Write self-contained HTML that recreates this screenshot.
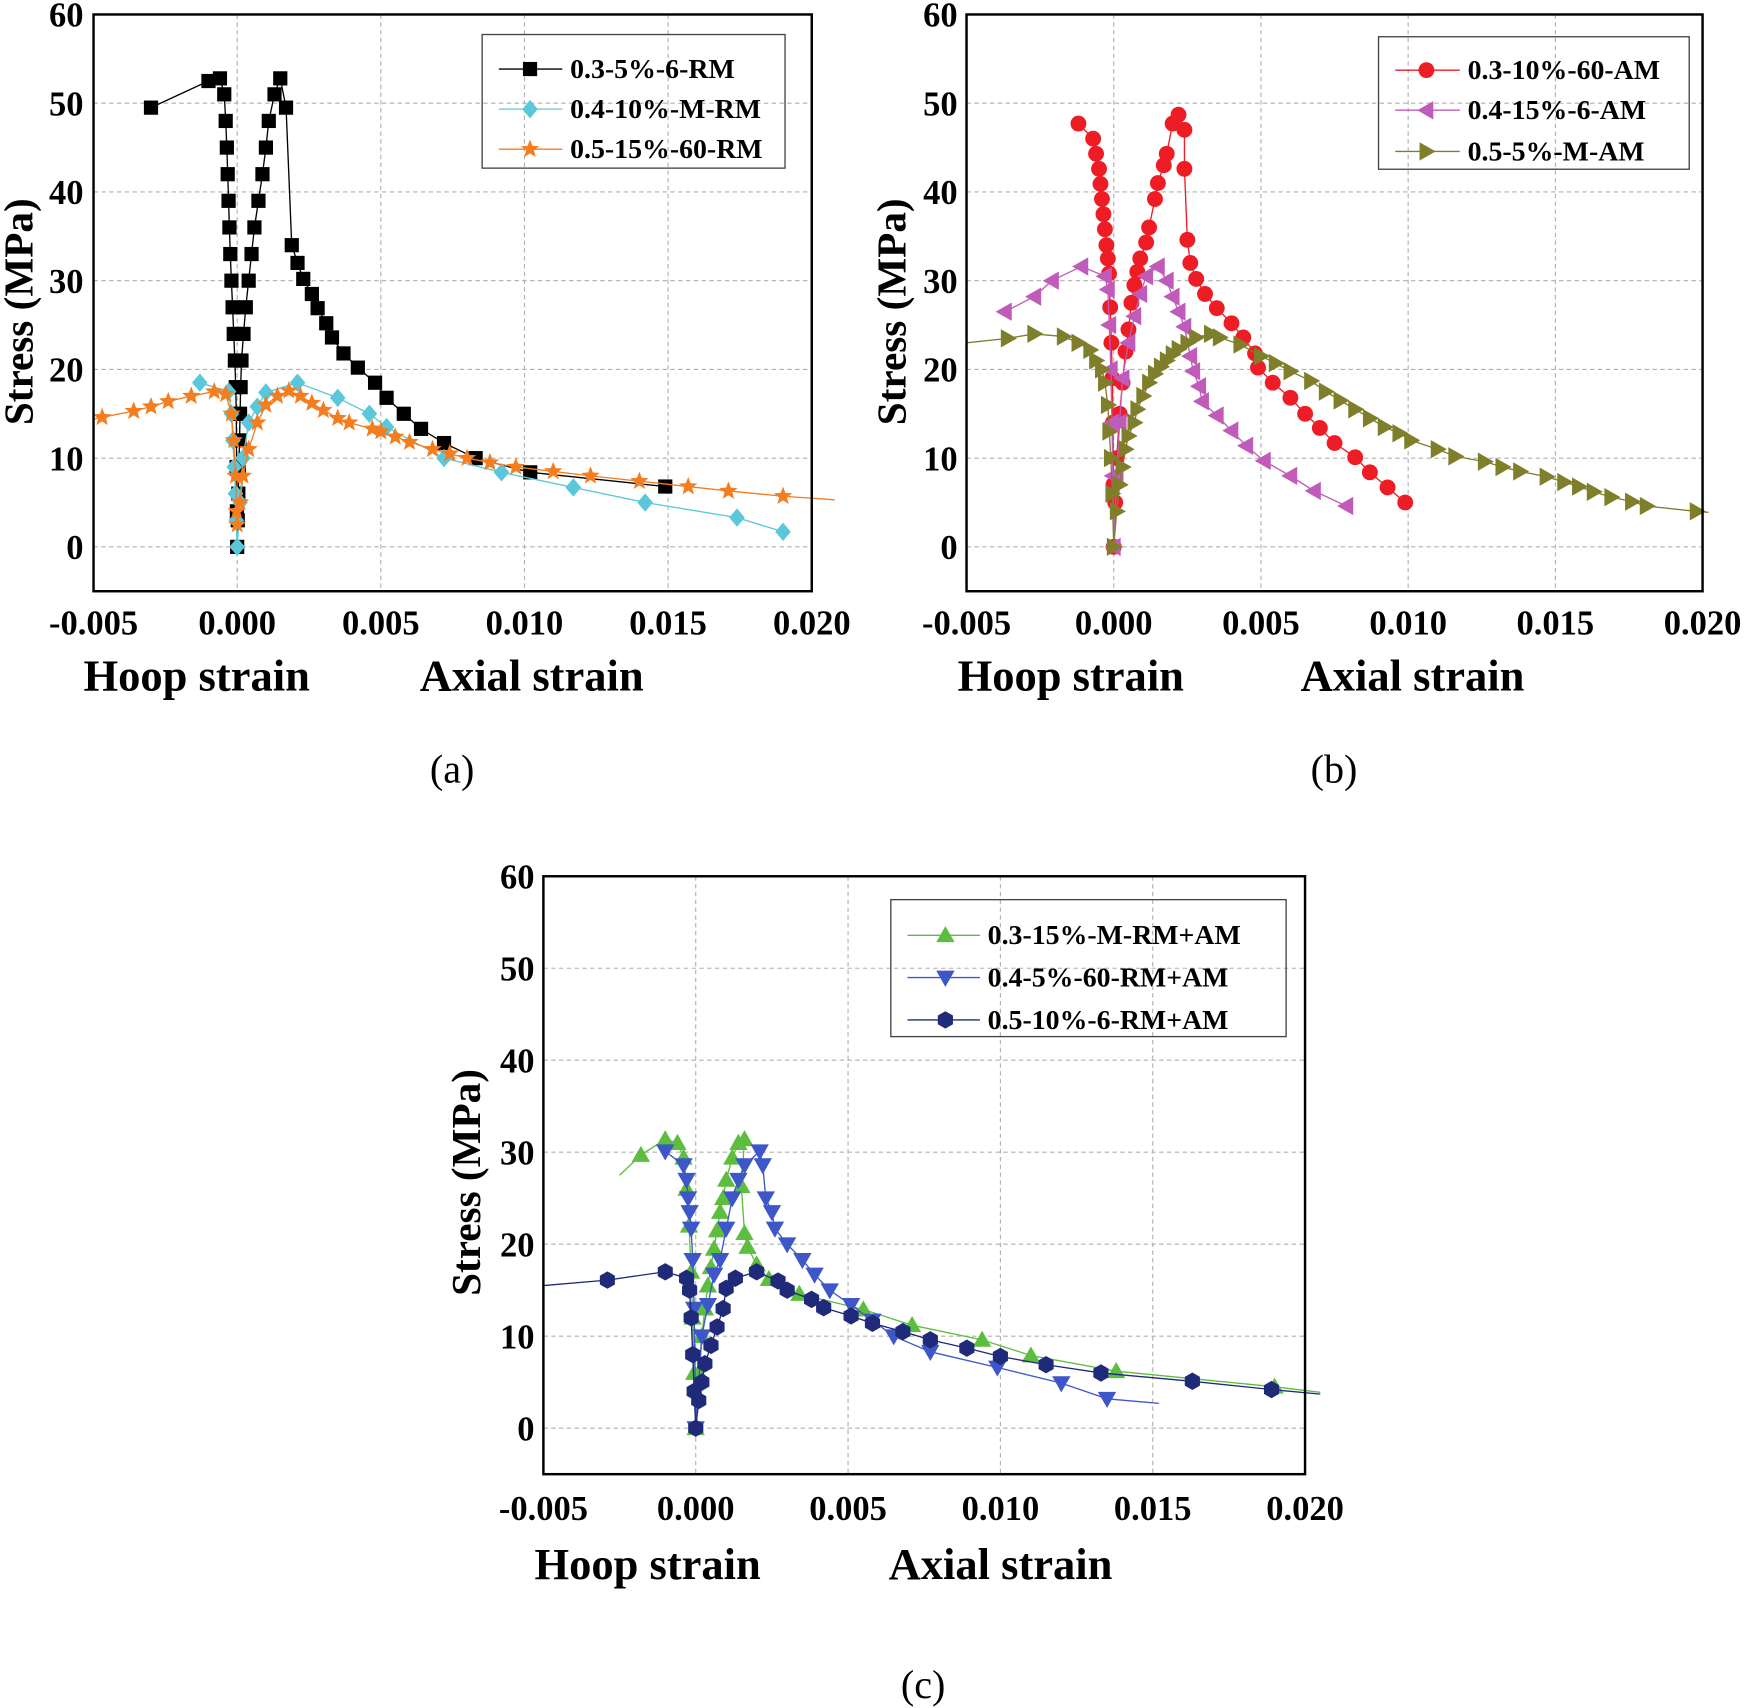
<!DOCTYPE html>
<html><head><meta charset="utf-8"><style>
html,body{margin:0;padding:0;background:#fff}
svg{display:block}
text{font-family:"Liberation Serif",serif}
</style></head><body>
<svg id="fig" width="1746" height="1708" viewBox="0 0 1568 1534" preserveAspectRatio="none" xmlns="http://www.w3.org/2000/svg"></svg>
<script>
// ---------- DATA ----------
const xTicks = [-0.005, 0.000, 0.005, 0.010, 0.015, 0.020];
const xTickLabels = ["-0.005","0.000","0.005","0.010","0.015","0.020"];
const yTicks = [0,10,20,30,40,50,60];
const yTickLabels = ["0","10","20","30","40","50","60"];

// (a) 0.3-5%-6-RM
const a1Strain = [-0.003,-0.001,-0.0006,-0.00045,-0.0004,-0.00036,-0.00033,-0.0003,-0.00027,-0.00024,-0.0002,-0.00016,-0.00012,-0.00008,-0.00005,-0.00003,-0.00002,-0.00001,0,0.00002,0.00004,0.00006,0.00008,0.0001,0.00012,0.00015,0.00022,0.0003,0.0004,0.0005,0.0006,0.00074,0.00088,0.001,0.0011,0.0013,0.0015,0.0017,0.0019,0.0021,0.0023,0.0026,0.0028,0.0031,0.0033,0.0037,0.0042,0.0048,0.0052,0.0058,0.0064,0.0072,0.0083,0.0102,0.0149];
const a1Stress = [49.5,52.5,52.8,51,48,45,42,39,36,33,30,27,24,21,18,15,9,4,0,3,6,9,12,15,18,21,24,27,30,33,36,39,42,45,48,51,52.8,49.5,34,32,30.2,28.5,26.9,25.2,23.6,21.8,20.2,18.5,16.8,15,13.3,11.7,10,8.4,6.8,5];
const a2Strain = [-0.0013,-0.0003,-0.0002,-0.00015,-0.0001,-0.00006,-0.00003,0,0.0001,0.0002,0.0004,0.0007,0.001,0.0021,0.0035,0.0046,0.0052,0.0072,0.0092,0.0117,0.0142,0.0174,0.019];
const a2Stress = [18.5,17.5,15,12,9,6,3,0,5,10,14,15.8,17.4,18.5,16.8,15,13.5,10,8.4,6.7,5,3.3,1.7];
const a3Strain = [-0.0047,-0.0036,-0.003,-0.0024,-0.0016,-0.0008,-0.0004,-0.0002,-0.00012,-0.00006,-0.00002,0,0.0001,0.0002,0.0004,0.0007,0.001,0.0014,0.0018,0.0022,0.0026,0.003,0.0035,0.0039,0.0047,0.005,0.0055,0.006,0.0068,0.0074,0.008,0.0088,0.0097,0.011,0.0123,0.014,0.0157,0.0171,0.019];
const a3Stress = [14.6,15.3,15.8,16.4,17,17.5,17.2,15,12,8,4,2.5,5,8,11,14,16,17,17.6,17,16.2,15.4,14.5,14,13.3,13,12.4,11.8,11,10.5,10,9.5,9,8.5,8,7.4,6.8,6.3,5.7];
const a3Tail = [[-0.005,14.4],[0.0208,5.3]];

// (b)
const b1Strain = [-0.0012,-0.0007,-0.0006,-0.0005,-0.00045,-0.0004,-0.00035,-0.0003,-0.00025,-0.0002,-0.00016,-0.00012,-0.00008,-0.00005,-0.00003,-0.00001,0,0.00005,0.0001,0.0002,0.0003,0.0004,0.0005,0.0006,0.0007,0.0008,0.0009,0.0011,0.0012,0.0014,0.0015,0.0017,0.0018,0.002,0.0022,0.0024,0.0024,0.0025,0.0026,0.0028,0.0031,0.0035,0.004,0.0044,0.0048,0.0049,0.0054,0.006,0.0065,0.007,0.0075,0.0082,0.0087,0.0093,0.0099];
const b1Stress = [47.7,46,44.3,42.6,40.9,39.2,37.5,35.8,34,32.5,30.8,27,23,19,14,7,0,5,10,15,18.5,22,24.5,27.5,29.5,31,32.5,34.3,36,39.2,41,43,44.3,47.7,48.7,47,42.6,34.6,32,30.2,28.5,26.9,25.2,23.6,21.8,20.2,18.5,16.8,15,13.4,11.7,10.1,8.4,6.7,5];
const b2Strain = [-0.0037,-0.0027,-0.0021,-0.0011,-0.0003,-0.0002,-0.00015,-0.0001,-0.00006,-0.00003,0,0.0001,0.0002,0.0003,0.0005,0.0007,0.0009,0.0011,0.0015,0.0018,0.002,0.0022,0.0024,0.0026,0.0027,0.0029,0.003,0.0035,0.004,0.0045,0.0051,0.006,0.0068,0.0079];
const b2Stress = [26.5,28.2,30,31.6,30.5,29,25,20,14,8,0,8,14,19,23,26,28.5,30.5,31.6,30,28.2,26.5,24.8,21.5,19.8,18.1,16.4,14.8,13.1,11.4,9.7,8,6.3,4.6];
const b2Tail = [[0.008,4.3]];
const b3Strain = [-0.0036,-0.0027,-0.0017,-0.0012,-0.0008,-0.0006,-0.0004,-0.0003,-0.0002,-0.00015,-0.0001,-0.00005,0,0.0001,0.0002,0.0003,0.0004,0.0005,0.0007,0.0008,0.001,0.0012,0.0014,0.0016,0.0018,0.002,0.0022,0.0025,0.0028,0.0033,0.0036,0.0043,0.005,0.0055,0.006,0.0067,0.0072,0.0077,0.0082,0.0087,0.0092,0.0097,0.0101,0.011,0.0116,0.0126,0.0132,0.0138,0.0147,0.0153,0.0158,0.0163,0.0169,0.0176,0.0181,0.0198];
const b3Stress = [23.5,24,23.7,23,22.2,21,20,18.5,16,13,10,6,0,4,7,9,11,12.5,14,15.5,17,18.5,19.5,20.3,21,21.7,22.3,23,23.6,24,23.6,22.8,21.5,20.7,19.8,18.7,17.5,16.5,15.5,14.5,13.5,12.8,12,11,10.2,9.6,9,8.5,7.9,7.3,6.8,6.2,5.6,5.1,4.6,4];
const b3Tail = [[-0.005,23],[0.0202,3.9]];

// (c)
const c1Strain = [-0.0018,-0.001,-0.0006,-0.0004,-0.0003,-0.00022,-0.00015,-0.0001,-0.00005,0,0.0001,0.0002,0.0003,0.0004,0.0005,0.0006,0.0007,0.0008,0.0009,0.001,0.0012,0.0014,0.0016,0.0015,0.0016,0.0017,0.002,0.0024,0.0034,0.0055,0.0071,0.0094,0.011,0.0138,0.019];
const c1Stress = [29.7,31.4,31,29.4,26,22,17,12,6,0,6,10,13,15.5,17.5,19.5,21.5,23.5,25,27,29.4,31,31.4,26.3,21.2,19.7,17.8,16.2,14.6,12.9,11.2,9.6,7.9,6.2,4.5];
const c1Tail = [[-0.0025,27.5],[0.0205,3.9]];
const c2Strain = [-0.001,-0.0004,-0.0003,-0.00025,-0.0002,-0.00015,-0.0001,-0.00005,0,0.0002,0.0004,0.0006,0.0008,0.001,0.0012,0.0014,0.0016,0.0021,0.0022,0.0023,0.0025,0.0026,0.003,0.0035,0.0039,0.0044,0.0051,0.0058,0.0065,0.0077,0.0099,0.012,0.0135];
const c2Stress = [30.1,28.6,27,25,23.5,21.7,18.3,13,0,10,13.4,16.7,18.3,21.7,25,27,28.6,30.1,28.6,25,23.5,21.7,20,18.3,16.7,15,13.4,11.7,10,8.3,6.6,4.9,3.2];
const c2Tail = [[0.0152,2.7]];
const c3Strain = [-0.0029,-0.001,-0.0003,-0.0002,-0.00015,-0.0001,-0.00005,0,0.0001,0.0002,0.0003,0.0005,0.0007,0.0009,0.001,0.0013,0.002,0.0027,0.003,0.0038,0.0042,0.0051,0.0058,0.0068,0.0077,0.0089,0.01,0.0115,0.0133,0.0163,0.0189];
const c3Stress = [16.1,17,16.3,15,12,8,4,0,3,5,7,9,11,13,15.2,16.3,17,16,15,14,13.1,12.2,11.4,10.5,9.6,8.7,7.8,6.9,6,5.1,4.2];
const c3Tail = [[-0.005,15.5],[0.0205,3.7]];

// ---------- RENDER ----------
const NS = "http://www.w3.org/2000/svg";
const svg = document.getElementById('fig');
function mk(tag, attrs, parent){ const e=document.createElementNS(NS,tag); for(const k in attrs) e.setAttribute(k,attrs[k]); (parent||svg).appendChild(e); return e; }

const panels = [
 {id:'a', L:84, R:729, T:13, B:531, label:'(a)', lx:406, ly:691, ytx:75, stx:16, sty:280, xlabY:570, hoopX:75, axialX:377, titY:620,
  leg:{x:433,y:31,w:272,h:120,rows:[62,98,134],lx1:448,lx2:505,mx:476,tx:512},
  series:[
   {name:'0.3-5%-6-RM', sx:a1Strain, sy:a1Stress, tail:[], color:'#000000', m:'square'},
   {name:'0.4-10%-M-RM', sx:a2Strain, sy:a2Stress, tail:[], color:'#5ac8da', m:'diamond'},
   {name:'0.5-15%-60-RM', sx:a3Strain, sy:a3Stress, tail:a3Tail, color:'#f47d20', m:'star'}]},
 {id:'b', L:868, R:1529, T:13, B:531, label:'(b)', lx:1198, ly:691, ytx:860, stx:800, sty:280, xlabY:570, hoopX:860, axialX:1168, titY:620,
  leg:{x:1238,y:33,w:279,h:119,rows:[63,99,136],lx1:1253,lx2:1311,mx:1281,tx:1318},
  series:[
   {name:'0.3-10%-60-AM', sx:b1Strain, sy:b1Stress, tail:[], color:'#ee1c24', m:'circle'},
   {name:'0.4-15%-6-AM', sx:b2Strain, sy:b2Stress, tail:b2Tail, color:'#c15bb9', m:'ltri'},
   {name:'0.5-5%-M-AM', sx:b3Strain, sy:b3Stress, tail:b3Tail, color:'#7f7f2b', m:'rtri'}]},
 {id:'c', L:488, R:1172, T:787, B:1324, label:'(c)', lx:829, ly:1513, ytx:480, stx:418, sty:1062, xlabY:1365, hoopX:480, axialX:798, titY:1418,
  leg:{x:800,y:808,w:355,h:123,rows:[840,878,916],lx1:815,lx2:880,mx:849,tx:887},
  series:[
   {name:'0.3-15%-M-RM+AM', sx:c1Strain, sy:c1Stress, tail:c1Tail, color:'#5cbd3f', m:'utri'},
   {name:'0.4-5%-60-RM+AM', sx:c2Strain, sy:c2Stress, tail:c2Tail, color:'#3d57c8', m:'dtri'},
   {name:'0.5-10%-6-RM+AM', sx:c3Strain, sy:c3Stress, tail:c3Tail, color:'#1f2a78', m:'hex'}]}
];

function marker(g, kind, cx, cy, color, s){
  let e;
  if(kind==='square') e=mk('rect',{x:cx-s*0.85,y:cy-s*0.85,width:s*1.7,height:s*1.7,fill:color},g);
  else if(kind==='circle') e=mk('circle',{cx:cx,cy:cy,r:s*0.95,fill:color},g);
  else {
    let pts;
    const r=s*1.1;
    if(kind==='diamond') pts=[[0,-r],[r*0.85,0],[0,r],[-r*0.85,0]];
    else if(kind==='utri') pts=[[0,-r],[r,r*0.75],[-r,r*0.75]];
    else if(kind==='dtri') pts=[[0,r],[r,-r*0.75],[-r,-r*0.75]];
    else if(kind==='ltri') pts=[[-r,0],[r*0.75,-r],[r*0.75,r]];
    else if(kind==='rtri') pts=[[r,0],[-r*0.75,-r],[-r*0.75,r]];
    else if(kind==='hex'){pts=[];for(let i=0;i<6;i++){const a=Math.PI/6+i*Math.PI/3;pts.push([r*0.95*Math.cos(a),r*0.95*Math.sin(a)]);}}
    else if(kind==='star'){pts=[];for(let i=0;i<10;i++){const a=-Math.PI/2+i*Math.PI/5;const rr=i%2?r*0.45:r*1.05;pts.push([rr*Math.cos(a),rr*Math.sin(a)]);}}
    e=mk('polygon',{points:pts.map(p=>(cx+p[0]).toFixed(1)+','+(cy+p[1]).toFixed(1)).join(' '),fill:color},g);
  }
  return e;
}

panels.forEach(p=>{
  const pg = mk('g',{});
  
  
  const xs = v => p.L + (v+0.005)/0.025*(p.R-p.L);
  const ys = v => p.B - (v+5)/65*(p.B-p.T);
  const grid = mk('g',{stroke:'#b0b0b0','stroke-width':1,'stroke-dasharray':'4,3'},pg);
  
  
  xTicks.forEach(t=>{ if(t>-0.005 && t<0.02) mk('line',{x1:xs(t),x2:xs(t),y1:p.T,y2:p.B},grid); });
  yTicks.forEach(t=>{ if(t<60) mk('line',{x1:p.L,x2:p.R,y1:ys(t),y2:ys(t)},grid); });
  xTicks.forEach((t,i)=>{
    const tx = mk('text',{x:xs(t),y:p.xlabY,'text-anchor':'middle','font-size':31,'font-weight':'bold'},pg);
    tx.textContent = xTickLabels[i];
    
    
  });
  yTicks.forEach((t,i)=>{
    const tx = mk('text',{x:p.ytx,y:ys(t)+11,'text-anchor':'end','font-size':31,'font-weight':'bold'},pg);
    tx.textContent = yTickLabels[i];
    
    
  });
  p.series.forEach((s,si)=>{
    const sg = mk('g',{},pg);
    
    
    let pts = s.sx.map((x,i)=>[x,s.sy[i]]);
    let linePts = pts.slice();
    s.tail.forEach(t=>{ if(t[0]<0) linePts.unshift(t); else linePts.push(t); });
    mk('polyline',{points:linePts.map(q=>xs(q[0]).toFixed(1)+','+ys(q[1]).toFixed(1)).join(' '),fill:'none',stroke:s.color,'stroke-width':1.2},sg);
    pts.forEach(q=>{
      const m = marker(sg,s.m,xs(q[0]),ys(q[1]),s.color,7.5);
      
      
    });
    const lg = mk('g',{},pg);
    
    
    const ry = p.leg.rows[si];
    mk('line',{x1:p.leg.lx1,x2:p.leg.lx2,y1:ry,y2:ry,stroke:s.color,'stroke-width':1.2},lg);
    marker(lg,s.m,p.leg.mx,ry,s.color,7.5);
    const lt = mk('text',{x:p.leg.tx,y:ry+8,'font-size':25,'font-weight':'bold'},lg);
    lt.textContent = s.name;
  });
  const fr = mk('rect',{x:p.L,y:p.T,width:p.R-p.L,height:p.B-p.T,fill:'none',stroke:'#000','stroke-width':2.2},pg);
  
  
  const lb = mk('rect',{x:p.leg.x,y:p.leg.y,width:p.leg.w,height:p.leg.h,fill:'none',stroke:'#444','stroke-width':1.2},pg);
  
  
  const st = mk('text',{x:p.stx,y:p.sty,'text-anchor':'middle','font-size':37,'font-weight':'bold',transform:`rotate(-90 ${p.stx} ${p.sty})`,dy:13},pg);
  st.textContent='Stress (MPa)';
  
  
  const h = mk('text',{x:p.hoopX,y:p.titY,'font-size':40,'font-weight':'bold'},pg);
  h.textContent='Hoop strain';
  
  
  const ax = mk('text',{x:p.axialX,y:p.titY,'font-size':40,'font-weight':'bold'},pg);
  ax.textContent='Axial strain';
  
  
  const pl = mk('text',{x:p.lx,y:p.ly+12,'text-anchor':'middle','font-size':36},pg);
  pl.textContent=p.label;
  
  
});
</script>
</body></html>
